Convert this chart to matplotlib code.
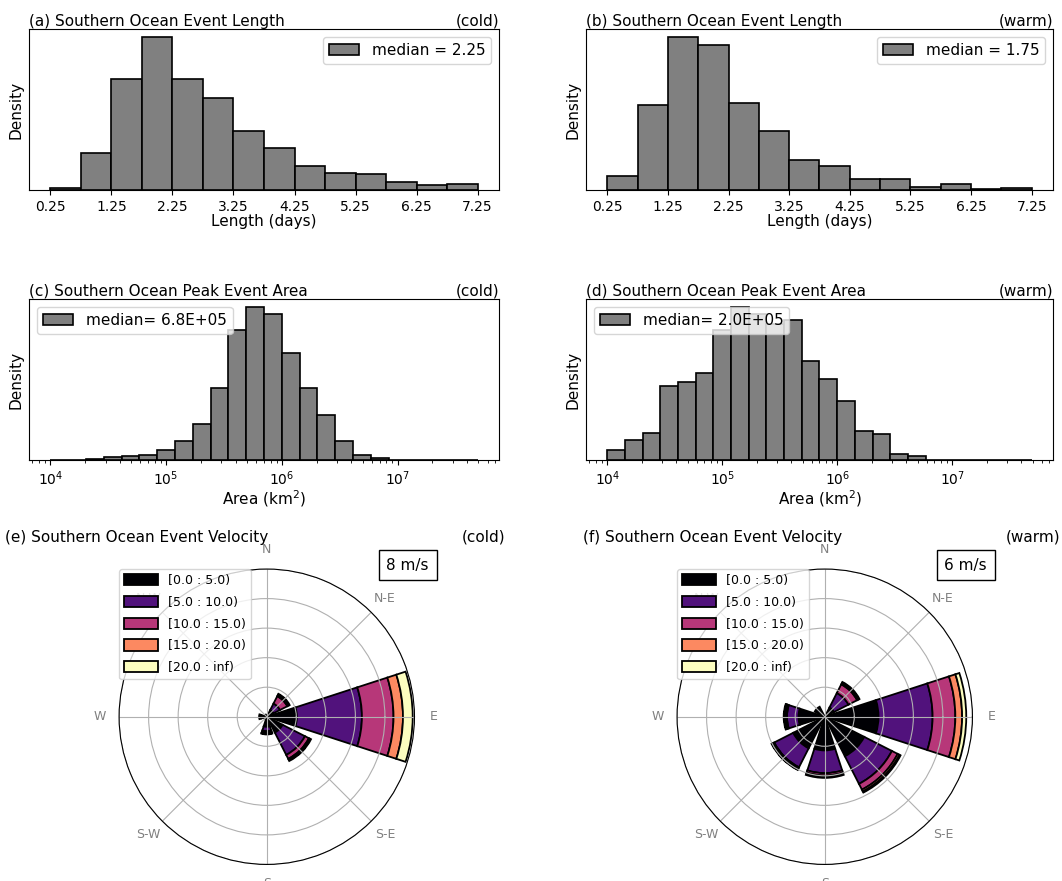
import numpy as np
import matplotlib
matplotlib.use("Agg")
import matplotlib.pyplot as plt
from matplotlib.patches import Patch

# --- event length (days), density per 0.5 day bin
len_edges = [0.25, 0.75, 1.25, 1.75, 2.25, 2.75, 3.25, 3.75, 4.25, 4.75,
             5.25, 5.75, 6.25, 6.75, 7.25]
len_ticks = [0.25, 1.25, 2.25, 3.25, 4.25, 5.25, 6.25, 7.25]
len_cold = [0.005, 0.107, 0.325, 0.448, 0.325, 0.270, 0.173, 0.122, 0.071,
            0.049, 0.048, 0.023, 0.016, 0.018]
len_warm = [0.043, 0.268, 0.486, 0.461, 0.275, 0.186, 0.095, 0.075, 0.036,
            0.035, 0.011, 0.018, 0.004, 0.007]
len_median = ["2.25", "1.75"]

# --- peak event area (km^2), log bins
area_edges = np.logspace(4, 8, 27)[:25]
area_cold = [0, 0, 0.04, 0.08, 0.11, 0.16, 0.29, 0.58, 1.08, 2.16, 3.92, 4.60,
             4.40, 3.21, 2.15, 1.35, 0.58, 0.16, 0.07, 0, 0, 0, 0, 0]
area_warm = [0.30, 0.61, 0.81, 2.21, 2.35, 2.60, 3.92, 4.60, 4.40, 4.10, 4.20,
             2.98, 2.44, 1.78, 0.88, 0.78, 0.19, 0.12, 0, 0, 0, 0, 0, 0]
area_median = ["6.8E+05", "2.0E+05"]

# --- velocity roses, frequency (%) per direction and speed bin
dir_angles = [0, 45, 90, 135, 180, 225, 270, 315]
dir_labels = ["E", "N-E", "N", "N-W", "W", "S-W", "S", "S-E"]
speed_labels = ["[0.0 : 5.0)", "[5.0 : 10.0)", "[10.0 : 15.0)",
                "[15.0 : 20.0)", "[20.0 : inf)"]
rose_cold = [[10.2, 2.5, 0.5, 0.8, 2.0, 1.0, 3.4, 6.0],
             [22.0, 2.5, 0, 0, 0.6, 0, 1.5, 8.5],
             [10.7, 2.8, 0, 0, 0, 0, 0.6, 1.5],
             [3.2, 0.6, 0, 0, 0, 0, 0.3, 0.5],
             [3.3, 0.3, 0, 0, 0, 0, 0.2, 0.3]]
rose_warm = [[18.2, 3.5, 0.3, 3.8, 8.9, 12.0, 11.4, 15.0],
             [18.3, 5.5, 0, 0, 3.9, 7.2, 7.7, 10.5],
             [7.7, 3.3, 0, 0, 0.6, 0.5, 0.8, 2.2],
             [2.3, 0.6, 0, 0, 0.3, 0.3, 0.4, 0.7],
             [1.4, 0.3, 0, 0, 0.2, 0.2, 0.4, 0.4]]
mean_speed = ["8 m/s", "6 m/s"]

fig = plt.figure(figsize=(10.62, 8.81), dpi=100)

lefts = [0.0273, 0.5518]
widths = [0.4426, 0.4397]
kind = ["(cold)", "(warm)"]


def titles(ax, left, right):
    ax.set_title(left, loc="left", fontsize=11, pad=2.5)
    ax.set_title(right, loc="right", fontsize=11, pad=2.5)


# row 1: lengths
for i, (vals, let) in enumerate(zip([len_cold, len_warm], ["a", "b"])):
    ax = fig.add_axes([lefts[i], 0.7843, widths[i], 0.1827])
    ax.bar(len_edges[:-1], vals, width=np.diff(len_edges), align="edge",
           color="grey", edgecolor="k", lw=1.2,
           label="median = " + len_median[i])
    ax.set_xticks(len_ticks)
    ax.set_yticks([])
    ax.tick_params(labelsize=10)
    ax.set_xlabel("Length (days)", fontsize=11, labelpad=0)
    ax.set_ylabel("Density", fontsize=11)
    ax.legend(loc="upper right", fontsize=11)
    titles(ax, "(%s) Southern Ocean Event Length" % let, kind[i])

# row 2: areas
for i, (vals, let) in enumerate(zip([area_cold, area_warm], ["c", "d"])):
    ax = fig.add_axes([lefts[i], 0.4779, widths[i], 0.1824])
    ax.bar(area_edges[:-1], vals, width=np.diff(area_edges), align="edge",
           color="grey", edgecolor="k", lw=1.2,
           label="median= " + area_median[i])
    ax.set_xscale("log")
    ax.set_yticks([])
    ax.tick_params(labelsize=10)
    ax.set_xlabel("Area (km$^2$)", fontsize=11, labelpad=0)
    ax.set_ylabel("Density", fontsize=11)
    ax.legend(loc="upper left", fontsize=11)
    titles(ax, "(%s) Southern Ocean Peak Event Area" % let, kind[i])

# row 3: velocity roses
colors = plt.cm.magma(np.linspace(0, 1, len(speed_labels)))
rose_left = [0.1121, 0.6375]
title_x = [[5, 505], [583, 1060]]
theta = np.deg2rad(dir_angles)
opening = np.deg2rad(45) * 0.8
for i, (rose, let) in enumerate(zip([rose_cold, rose_warm], ["e", "f"])):
    ax = fig.add_axes([rose_left[i], 0.0188, 0.2782, 0.3353], projection="polar")
    bottom = np.zeros(len(dir_angles))
    for j, row in enumerate(rose):
        row = np.array(row, dtype=float)
        m = row > 0
        ax.bar(theta[m], row[m], width=opening, bottom=bottom[m],
               color=colors[j], edgecolor="k", lw=1.3)
        bottom += row
    ax.set_ylim(0, 50)
    ax.set_yticks([10, 20, 30, 40, 50])
    ax.set_yticklabels([])
    ax.set_thetagrids(dir_angles, dir_labels, color="grey", fontsize=9)
    handles = [Patch(facecolor=c, edgecolor="k", lw=1.3) for c in colors]
    ax.legend(handles, speed_labels, loc="upper left", bbox_to_anchor=(0, 1),
              borderaxespad=0, fontsize=9, handlelength=2.7, handleheight=1.0,
              labelspacing=0.7)
    ax.text(0.977, 1.013, mean_speed[i], transform=ax.transAxes, fontsize=11,
            ha="center", va="center",
            bbox=dict(boxstyle="square,pad=0.5", fc="white", ec="k"))
    fig.text(title_x[i][0] / 1062, 0.3851,
             "(%s) Southern Ocean Event Velocity" % let, fontsize=11,
             ha="left", va="baseline")
    fig.text(title_x[i][1] / 1062, 0.3851, kind[i], fontsize=11,
             ha="right", va="baseline")

fig.savefig("out.png", dpi=100)
